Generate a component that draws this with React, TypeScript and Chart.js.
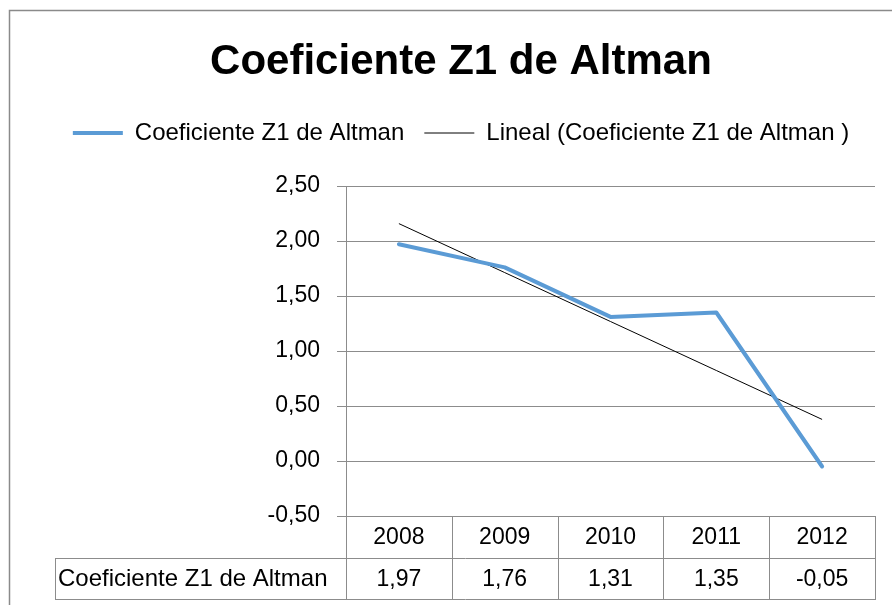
import React, { useEffect, useRef } from 'react';
import { Chart, registerables } from 'chart.js';

Chart.register(...registerables);

// ---- data ----
const CHART_TITLE = 'Coeficiente Z1 de Altman';
const SERIES_NAME = 'Coeficiente Z1 de Altman';
const TREND_NAME = 'Lineal (Coeficiente Z1 de Altman )';
const YEARS = ['2008', '2009', '2010', '2011', '2012'];
const Z1_VALUES = [1.97, 1.76, 1.31, 1.35, -0.05];
const Y_MIN = -0.5;
const Y_MAX = 2.5;
const Y_STEP = 0.5;

// Excel "Lineal" trendline = least-squares fit of the series
function linearTrend(values: number[]): number[] {
  const n = values.length;
  const xs = values.map((_, i) => i + 1);
  const mx = xs.reduce((a, b) => a + b, 0) / n;
  const my = values.reduce((a, b) => a + b, 0) / n;
  let num = 0;
  let den = 0;
  for (let i = 0; i < n; i++) {
    num += (xs[i] - mx) * (values[i] - my);
    den += (xs[i] - mx) * (xs[i] - mx);
  }
  const slope = num / den;
  const intercept = my - slope * mx;
  return xs.map((x) => intercept + slope * x);
}

const fmt = (v: number) => v.toFixed(2).replace('.', ',');

const FONT = '"Liberation Sans", Arial, sans-serif';
const GRID = '#8c8c8c';
const BLUE = '#5b9bd5';

const framePlugin = {
  id: 'frame',
  beforeDraw(chart: any) {
    const ctx = chart.ctx;
    ctx.save();
    ctx.strokeStyle = '#8a8a8a';
    ctx.lineWidth = 1.5;
    ctx.strokeRect(9.5, 10.5, 1000, 1000);
    ctx.restore();
  },
};

const tablePlugin = {
  id: 'dataTable',
  afterDraw(chart: any) {
    const ctx = chart.ctx;
    const xs = chart.scales.x;
    const area = chart.chartArea;
    const step = xs.getPixelForValue(1) - xs.getPixelForValue(0);
    const rowTop = area.bottom;
    const rowMid = rowTop + 42;
    const rowBot = rowMid + 41;
    const labelLeft = 55;
    ctx.save();
    ctx.strokeStyle = GRID;
    ctx.lineWidth = 1;
    const hline = (x1: number, x2: number, y: number) => {
      ctx.beginPath();
      ctx.moveTo(x1, Math.round(y) + 0.5);
      ctx.lineTo(x2, Math.round(y) + 0.5);
      ctx.stroke();
    };
    const vline = (x: number, y1: number, y2: number) => {
      ctx.beginPath();
      ctx.moveTo(Math.round(x) + 0.5, y1);
      ctx.lineTo(Math.round(x) + 0.5, y2);
      ctx.stroke();
    };
    hline(labelLeft, area.right + 1, rowMid);
    hline(labelLeft, area.right + 1, rowBot);
    vline(labelLeft, rowMid, rowBot + 1);
    vline(area.left, rowTop, rowBot + 1);
    for (let i = 0; i < YEARS.length; i++) {
      const right = xs.getPixelForValue(i) + step / 2;
      vline(right, rowTop, rowBot + 1);
    }
    ctx.fillStyle = '#000';
    ctx.textBaseline = 'middle';
    ctx.textAlign = 'center';
    ctx.font = `23px ${FONT}`;
    for (let i = 0; i < YEARS.length; i++) {
      const cx = xs.getPixelForValue(i);
      ctx.fillText(YEARS[i], cx, (rowTop + rowMid) / 2 + 1);
      ctx.fillText(fmt(Z1_VALUES[i]), cx, (rowMid + rowBot) / 2 + 1);
    }
    ctx.textAlign = 'left';
    ctx.font = `24px ${FONT}`;
    ctx.fillText(SERIES_NAME, labelLeft + 3, (rowMid + rowBot) / 2 + 1);
    ctx.restore();
  },
};

export default function App() {
  const canvasRef = useRef<HTMLCanvasElement | null>(null);

  useEffect(() => {
    if (!canvasRef.current) return;
    const trend = linearTrend(Z1_VALUES);
    const chart = new Chart(canvasRef.current, {
      type: 'line',
      data: {
        labels: YEARS,
        datasets: [
          {
            label: SERIES_NAME,
            data: Z1_VALUES,
            borderColor: BLUE,
            backgroundColor: BLUE,
            borderWidth: 4,
            pointRadius: 0,
            pointHoverRadius: 0,
            pointStyle: 'line',
            tension: 0,
            borderJoinStyle: 'round',
            borderCapStyle: 'round',
          },
          {
            label: TREND_NAME,
            data: trend,
            borderColor: '#000000',
            backgroundColor: '#000000',
            borderWidth: 1,
            pointRadius: 0,
            pointHoverRadius: 0,
            pointStyle: 'line',
            tension: 0,
          },
        ],
      },
      options: {
        responsive: false,
        animation: false,
        events: [],
        layout: { padding: { left: 47, right: 17, top: 0, bottom: 89 } },
        scales: {
          x: {
            type: 'category',
            offset: true,
            display: false,
          },
          y: {
            min: Y_MIN,
            max: Y_MAX,
            afterFit: (scale: any) => {
              scale.width = 299;
            },
            ticks: {
              stepSize: Y_STEP,
              color: '#000',
              padding: 17,
              font: { family: FONT, size: 23 },
              callback: (v: any) => fmt(Number(v)),
            },
            grid: {
              color: GRID,
              lineWidth: 1,
              drawTicks: true,
              tickLength: 9,
              tickColor: GRID,
            },
            border: { display: true, color: GRID, width: 1 },
          },
        },
        plugins: {
          title: {
            display: true,
            text: CHART_TITLE,
            color: '#000',
            font: {
              family: FONT,
              size: 42,
              weight: 'bold',
              lineHeight: 1.2,
            },
            padding: { top: 37, bottom: 13.6 },
          },
          subtitle: {
            display: true,
            text: '',
            weight: 500,
            font: { size: 31, lineHeight: 1 },
            padding: { top: 0, bottom: 0 },
          },
          legend: {
            display: true,
            position: 'top',
            labels: {
              usePointStyle: true,
              pointStyleWidth: 50,
              padding: 20,
              color: '#000',
              font: { family: FONT, size: 24 },
            },
          },
          tooltip: { enabled: false },
        },
      },
      plugins: [framePlugin, tablePlugin],
    } as any);
    return () => chart.destroy();
  }, []);

  return (
    <div style={{ position: 'fixed', left: 0, top: 0, width: 892, height: 605, background: '#fff' }}>
      <canvas ref={canvasRef} width={892} height={605} style={{ display: 'block' }} />
    </div>
  );
}
